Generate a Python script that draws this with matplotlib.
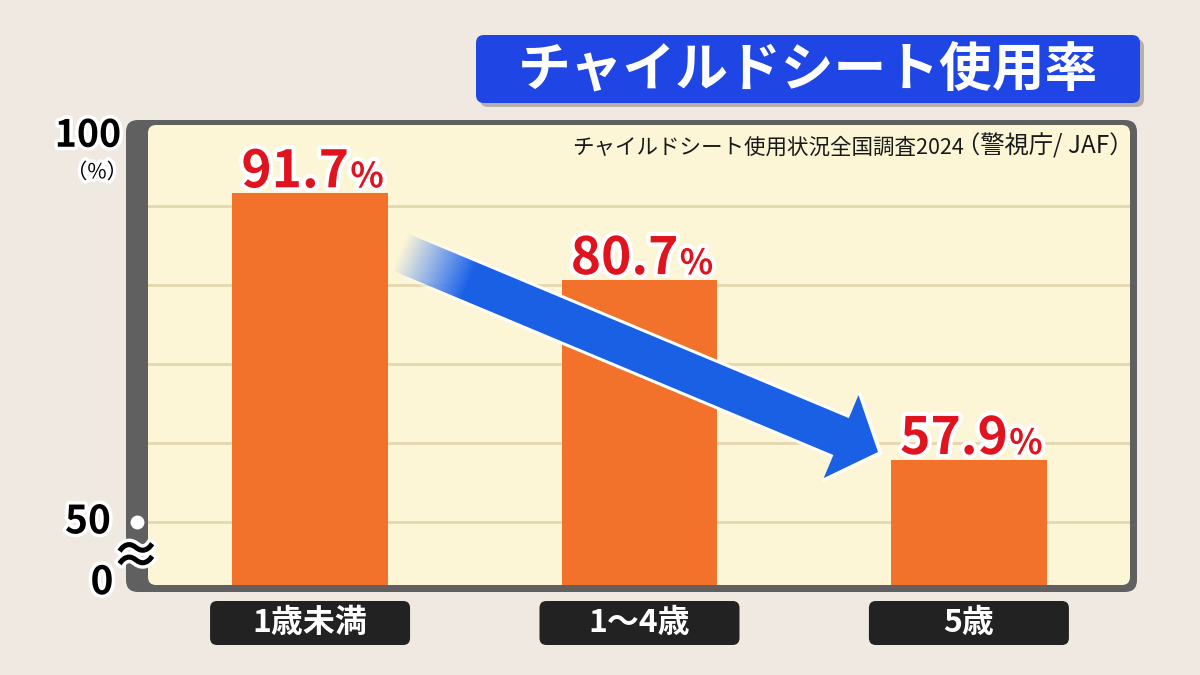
import numpy as np
import matplotlib.pyplot as plt
from matplotlib.patches import FancyBboxPatch, Polygon
import matplotlib.patheffects as pe

plt.rcParams['font.family'] = ['Noto Sans CJK JP', 'DejaVu Sans']

# data
categories = ['1歳未満', '1～4歳', '5歳']
rates = [91.7, 80.7, 57.9]
grid_vals = [50, 60, 70, 80, 90]
title = 'チャイルドシート使用率'
source = 'チャイルドシート使用状況全国調査2024'
source_org = '（警視庁/ JAF）'

W, H = 1200, 675
fig = plt.figure(figsize=(12, 6.75), dpi=100)
fig.patch.set_facecolor('#efe9e1')

# background layer in pixel coords
bg = fig.add_axes([0, 0, 1, 1], zorder=0)
bg.set_xlim(0, W)
bg.set_ylim(H, 0)
bg.axis('off')

bg.add_patch(FancyBboxPatch((126, 120), 1011, 472, boxstyle='round,pad=0,rounding_size=12',
                            fc='#606060', ec='none'))
bg.add_patch(FancyBboxPatch((148, 125), 982, 460, boxstyle='round,pad=0,rounding_size=8',
                            fc='#fcf6d6', ec='none'))

# title box
bg.add_patch(FancyBboxPatch((480, 39), 664, 68, boxstyle='round,pad=0,rounding_size=8',
                            fc='#8f8a84', ec='none', alpha=0.6))
bg.add_patch(FancyBboxPatch((476, 35), 664, 68, boxstyle='round,pad=0,rounding_size=8',
                            fc='#1f46e4', ec='none'))
bg.text(808, 70, title, color='white', fontsize=38, fontweight='bold', ha='center', va='center')

# chart
ax = fig.add_axes([148 / W, 1 - 585 / H, 982 / W, 460 / H], zorder=1)
ax.patch.set_alpha(0)
x = np.arange(len(categories))
ax.set_xlim(-0.492, 2.489)
ax.set_ylim(42, 100.3)
for g in grid_vals:
    ax.axhline(g, color='#e3d7ae', lw=2, zorder=1)
ax.bar(x, rates, width=0.473, color='#f2722b', zorder=2)
for s in ax.spines.values():
    s.set_visible(False)
ax.set_xticks([])
ax.set_yticks([])

stroke = [pe.withStroke(linewidth=6, foreground='white')]
for i, v in enumerate(rates):
    ax.annotate(f'{v:.1f}', (i, v), xytext=(28, 4), textcoords='offset points',
                ha='right', va='baseline', fontsize=37, fontweight='bold', color='#e0141e',
                path_effects=stroke, zorder=4)
    ax.annotate('%', (i, v), xytext=(29, 4), textcoords='offset points',
                ha='left', va='baseline', fontsize=25, fontweight='bold', color='#e0141e',
                path_effects=stroke, zorder=4)

# y labels (broken axis)
yt = ax.get_yaxis_transform()


def px_x(px):
    return (px - 148) / 982


lab_fx = [pe.withStroke(linewidth=5, foreground='white')]
ax.text(px_x(88), 99.0, '100', transform=yt, ha='center', va='center', fontsize=27,
        fontweight='bold', color='black', path_effects=lab_fx, clip_on=False)
ax.text(px_x(97), 94.3, '（%）', transform=yt, ha='center', va='center', fontsize=15,
        color='black', path_effects=lab_fx, clip_on=False)
ax.text(px_x(88), 50, '50', transform=yt, ha='center', va='center', fontsize=28,
        fontweight='bold', color='black', path_effects=lab_fx, clip_on=False)
ax.text(px_x(136), 45.4, '≈', transform=yt, ha='center', va='center', fontsize=36,
        fontweight='bold', color='black', path_effects=lab_fx, clip_on=False)
ax.text(px_x(102), 42.3, '0', transform=yt, ha='center', va='center', fontsize=28,
        fontweight='bold', color='black', path_effects=lab_fx, clip_on=False)
ax.plot([px_x(137)], [50], 'o', transform=yt, ms=9, color='white', clip_on=False, zorder=5)

# overlay layer
ov = fig.add_axes([0, 0, 1, 1], zorder=3)
ov.patch.set_alpha(0)
ov.axis('off')
ov.set_xlim(0, W)
ov.set_ylim(H, 0)

# source line: organisation part right-aligned, survey name placed just before it
org = ov.text(1134, 154, source_org, ha='right', va='baseline', fontsize=17.5, color='#1a1a1a')
fig.canvas.draw()
org_left = org.get_window_extent().x0
ov.text(org_left + 7, 154, source, ha='right', va='baseline', fontsize=15.5, color='#1a1a1a')

# category boxes below bars
for i, c in enumerate(categories):
    cx = ax.transData.transform((i, 50))[0]
    ov.add_patch(FancyBboxPatch((cx - 100, 601), 200, 44, boxstyle='round,pad=0,rounding_size=7',
                                fc='#222222', ec='none'))
    ov.text(cx, 623, c, ha='center', va='center', fontsize=23, fontweight='bold', color='white')

# trend arrow with faded tail
T = np.array([400.0, 252.0])
P = np.array([878.0, 452.0])
u = (P - T) / np.linalg.norm(P - T)
n = np.array([-u[1], u[0]])


def arrow_pts(grow):
    hw, head_w, head_l = 20 + grow, 45 + grow * 1.5, 40
    base = P - head_l * u
    tail = T - grow * u
    return [tail + hw * n, base + hw * n, base + head_w * n, P + grow * 1.8 * u,
            base - head_w * n, base - hw * n, tail - hw * n]


xs = np.arange(360, 920) + 0.5
ys = np.arange(190, 520) + 0.5
XX, YY = np.meshgrid(xs, ys)
ramp = np.clip(((XX - T[0]) * u[0] + (YY - T[1]) * u[1]) / 75, 0, 1)

for grow, col, z in [(3, (1, 1, 1), 1), (0, (0.10, 0.38, 0.90), 2)]:
    img = np.zeros((len(ys), len(xs), 4))
    img[..., 0], img[..., 1], img[..., 2] = col
    img[..., 3] = ramp
    poly = Polygon(arrow_pts(grow), closed=True, fc='none', ec='none')
    ov.add_patch(poly)
    im = ov.imshow(img, extent=(360, 920, 520, 190), origin='upper', zorder=z,
                   interpolation='bilinear', aspect='auto')
    im.set_clip_path(poly)

ov.set_xlim(0, W)
ov.set_ylim(H, 0)

fig.savefig('out.png', dpi=100, facecolor=fig.get_facecolor())
